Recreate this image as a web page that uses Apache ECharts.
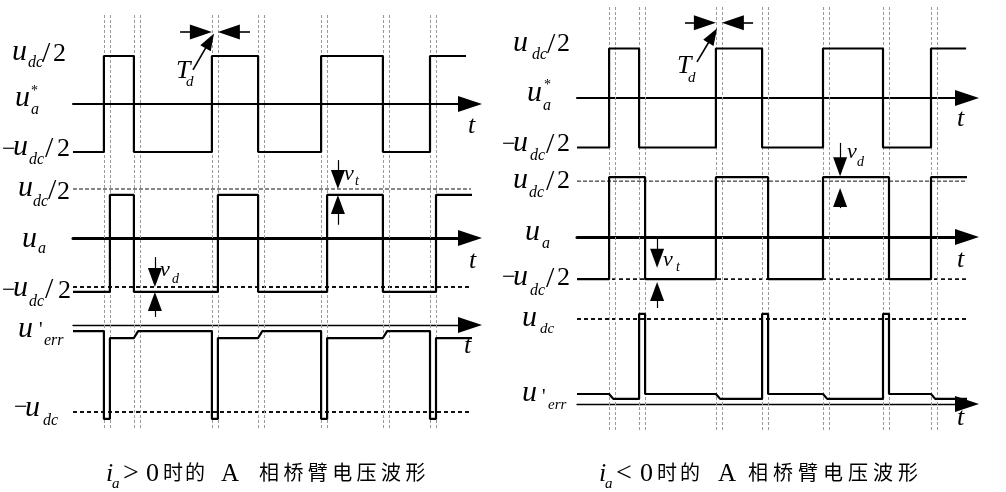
<!DOCTYPE html>
<html>
<head>
<meta charset="utf-8">
<title>A相桥臂电压波形</title>
<script src="https://cdn.jsdelivr.net/npm/echarts@6/dist/echarts.min.js"></script>
<style>
  html, body { margin: 0; padding: 0; background: #fff; }
  #chart { width: 1006px; height: 492px; }
</style>
</head>
<body>
<div id="chart"></div>
<script>
// udc = 2, so +-udc/2 = +-1. time in arbitrary units, dead time TD = 2
const TD = 2
const RAMP = 1.4
// switching instants of the reference u_a* (rise, fall, rise, ...)
const edgesPos = [10.3, 20.3, 46.3, 61.7, 82.7, 103.3, 119]
const edgesNeg = [10.7, 20.7, 46.3, 61.7, 82, 102, 118]
const refLevels = [-1, 1]
// u_a levels [low, high]
const uaPosLevels = [-1.1, 0.88]
const uaNegLevels = [-0.86, 1.22]
// dashed udc/2 and -udc/2 references of the u_a rows
const uaPosDash = [1, -1]
const uaNegDash = [1.14, -0.86]
// u'err levels [ref low, ref high, dead-time pulse]
const errPosLevels = [-0.14, -0.3, -2.16]
const errNegLevels = [0.235, 0.12, 2.12]
const errPosDash = -2
const errNegDash = 2
// end time of the traces [u_a*, u_a, u'err]
const tEndPos = [131, 133.3, 133.3]
const tEndNeg = [129.7, 130, 130]

// annotation arrows, [tail, tip] as [t, value] of their row
const tdArrowsPos = [[[35.7, 1.5], [46.3, 1.5]], [[59, 1.5], [48.3, 1.5]]]
const tdPointerPos = [[[40, 0.71], [47, 1.47]]]
const tdArrowsNeg = [[[36, 1.52], [46.3, 1.52]], [[58.7, 1.52], [48.3, 1.52]]]
const tdPointerNeg = [[[40, 0.73], [46.7, 1.41]]]
const vArrowsPos = [
  [[27.3, -0.39], [27.3, -1.0]], [[27.3, -1.61], [27.3, -1.1]],   // v_d
  [[88.3, 1.59], [88.3, 1.0]], [[88.3, 0.27], [88.3, 0.88]]       // v_t
]
const vArrowsNeg = [
  [[26.7, 0], [26.7, -0.63]], [[26.7, -1.45], [26.7, -0.92]],     // v_t
  [[87.7, 1.92], [87.7, 1.24]], [[87.7, 0.59], [87.7, 1.0]]       // v_d
]

const PPT = 3 // px per time unit
const panels = [
  { left: 73, width: 397, tMax: 132.33, gTop: 13, gH: 415 },
  { left: 577, width: 390, tMax: 130, gTop: 7, gH: 423 }
]
const rows = [
  { p: 0, top: 27.2, height: 153.6, min: -1.6, max: 1.6, axisW: 2 },
  { p: 0, top: 154.7, height: 166.6, min: -1.7, max: 1.7, axisW: 3 },
  { p: 0, top: 298.9, height: 130.5, min: -2.4, max: 0.6, axisW: 1.3 },
  { p: 1, top: 18.8, height: 158.4, min: -1.6, max: 1.6, axisW: 2 },
  { p: 1, top: 139, height: 181.3, min: -1.7, max: 2.0, axisW: 3 },
  { p: 1, top: 302, height: 127.5, min: -0.6, max: 2.4, axisW: 1.3 }
]

function square(edges, lv, end, dRise, dFall) {
  let y = lv[0]
  const pts = [[0, y]]
  edges.forEach((e, i) => {
    const t = e + (i % 2 ? dFall : dRise)
    pts.push([t, y])
    y = lv[i % 2 ? 0 : 1]
    pts.push([t, y])
  })
  pts.push([end, y])
  return pts
}
// i_a > 0 : -udc pulse after each rising edge, small step at falling edges
function errPos(edges, lv, end) {
  const [lo, hi, pk] = lv
  const pts = [[0, lo]]
  let y = lo
  edges.forEach((e, i) => {
    if (i % 2 === 0) { pts.push([e, lo], [e, pk], [e + TD, pk], [e + TD, hi]); y = hi }
    else { pts.push([e, hi], [e + RAMP, lo]); y = lo }
  })
  pts.push([end, y])
  return pts
}
// i_a < 0 : +udc pulse after each falling edge, small step at rising edges
function errNeg(edges, lv, end) {
  const [lo, hi, pk] = lv
  const pts = [[0, lo]]
  let y = lo
  edges.forEach((e, i) => {
    if (i % 2 === 0) { pts.push([e, lo], [e + RAMP, hi]); y = hi }
    else { pts.push([e, hi], [e, pk], [e + TD, pk], [e + TD, lo]); y = lo }
  })
  pts.push([end, y])
  return pts
}

function ppu(r) { return rows[r].height / (rows[r].max - rows[r].min) }

// shaft as a markLine, head as a rotated triangle centred half a head-length behind the tip
function arrows(r, segs, head, w) {
  const shafts = [], heads = []
  segs.forEach(([a, b]) => {
    const dx = (b[0] - a[0]) * PPT
    const dy = (b[1] - a[1]) * ppu(r)
    const len = Math.hypot(dx, dy)
    const k = head[1] / 2 / len
    const c = [b[0] - (b[0] - a[0]) * k, b[1] - (b[1] - a[1]) * k]
    shafts.push([{ coord: a }, { coord: c }])
    heads.push({ value: c, symbolSize: head, symbolRotate: Math.atan2(dy, dx) * 180 / Math.PI - 90 })
  })
  return {
    type: 'scatter', xAxisIndex: r, yAxisIndex: r, data: heads, symbol: 'triangle',
    silent: true, animation: false, z: 7, clip: false,
    itemStyle: { color: '#000', opacity: 1 },
    markLine: {
      silent: true, animation: false, symbol: ['none', 'none'],
      label: { show: false }, emphasis: { disabled: true },
      lineStyle: { color: '#000', width: w, type: 'solid', opacity: 1 },
      data: shafts
    }
  }
}

function wave(r, pts) {
  return {
    type: 'line', xAxisIndex: r, yAxisIndex: r, data: pts, symbol: 'none', showSymbol: false,
    clip: false, silent: true, animation: false, z: 5,
    lineStyle: { color: '#000', width: 2.2 }
  }
}
function hdash(r, v, end, w, dash) {
  return {
    type: 'line', xAxisIndex: r, yAxisIndex: r, data: [[0, v], [end, v]], symbol: 'none',
    clip: false, silent: true, animation: false, z: 3,
    lineStyle: { color: '#111', width: w, type: dash }
  }
}
function guides(gi, edges) {
  const data = []
  edges.forEach(e => { data.push({ xAxis: e }, { xAxis: e + TD }) })
  return {
    type: 'line', xAxisIndex: gi, yAxisIndex: gi, data: [[0, 0]], symbol: 'none', showSymbol: false,
    silent: true, animation: false, z: 1, lineStyle: { opacity: 0 },
    markLine: {
      silent: true, animation: false, symbol: ['none', 'none'], label: { show: false },
      lineStyle: { color: '#9a9a9a', width: 1, type: [3, 2], opacity: 1 }, data: data
    }
  }
}

const grid = [], xAxis = [], yAxis = []
rows.forEach((r, i) => {
  const p = panels[r.p]
  grid.push({ left: p.left, width: p.width, top: r.top, height: r.height, outerBoundsMode: 'none', containLabel: false })
  xAxis.push({
    type: 'value', gridIndex: i, min: 0, max: p.tMax, z: 4,
    axisLine: { show: true, onZero: true, symbol: ['none', 'triangle'], symbolSize: [16, 24], lineStyle: { color: '#000', width: r.axisW } },
    axisTick: { show: false }, axisLabel: { show: false }, splitLine: { show: false }
  })
  yAxis.push({ type: 'value', gridIndex: i, min: r.min, max: r.max, show: false, splitLine: { show: false } })
})
panels.forEach((p, j) => {
  grid.push({ left: p.left, width: p.width, top: p.gTop, height: p.gH, outerBoundsMode: 'none', containLabel: false })
  xAxis.push({ type: 'value', gridIndex: 6 + j, min: 0, max: p.tMax, show: false, splitLine: { show: false } })
  yAxis.push({ type: 'value', gridIndex: 6 + j, min: 0, max: 1, show: false, splitLine: { show: false } })
})

const series = [
  guides(6, edgesPos),
  guides(7, edgesNeg),
  // i_a > 0
  wave(0, square(edgesPos, refLevels, tEndPos[0], 0, 0)),
  arrows(0, tdArrowsPos, [15, 22], 1.6),
  arrows(0, tdPointerPos, [12, 17], 1.6),
  wave(1, square(edgesPos, uaPosLevels, tEndPos[1], TD, 0)),
  arrows(1, vArrowsPos, [14, 19], 1.2),
  hdash(1, uaPosDash[0], tEndPos[1], 1, [4, 2]),
  hdash(1, uaPosDash[1], tEndPos[1], 1.8, [4, 3]),
  wave(2, errPos(edgesPos, errPosLevels, tEndPos[2])),
  hdash(2, errPosDash, tEndPos[2], 1.8, [4, 3]),
  // i_a < 0
  wave(3, square(edgesNeg, refLevels, tEndNeg[0], 0, 0)),
  arrows(3, tdArrowsNeg, [15, 22], 1.6),
  arrows(3, tdPointerNeg, [12, 17], 1.6),
  wave(4, square(edgesNeg, uaNegLevels, tEndNeg[1], 0, TD)),
  arrows(4, vArrowsNeg, [14, 19], 1.2),
  hdash(4, uaNegDash[0], tEndNeg[1], 1, [4, 2]),
  hdash(4, uaNegDash[1], tEndNeg[1], 1.8, [4, 3]),
  wave(5, errNeg(edgesNeg, errNegLevels, tEndNeg[2])),
  hdash(5, errNegDash, tEndNeg[2], 1.8, [4, 3])
]

// ---- text ----
const SERIF = '"Liberation Serif","Times New Roman",serif'
const CJK = '"Noto Sans CJK SC","Noto Sans CJK TC",sans-serif'
// [x, baseline, text, size, italic]
const labels = [
  // left, row 1
  [12, 62, 'u', 30, 1], [28, 68, 'dc', 16, 1], [42, 64, '/', 30, 0], [53, 63, '2', 26, 0],
  [15, 108, 'u', 30, 1], [31, 115, 'a', 16, 1], [31, 96, '*', 14, 0],
  [2, 158, '\u2212', 24, 0], [13, 157, 'u', 30, 1], [29, 165, 'dc', 16, 1], [45, 159, '/', 30, 0], [57, 158, '2', 26, 0],
  [176, 80, 'T', 26, 1], [186, 87, 'd', 15, 1],
  [468, 135, 't', 26, 1],
  // left, row 2
  [18, 198, 'u', 30, 1], [33, 207, 'dc', 16, 1], [48, 201, '/', 30, 0], [57, 201, '2', 26, 0],
  [22, 249, 'u', 30, 1], [38, 254, 'a', 16, 1],
  [2, 299, '\u2212', 24, 0], [13, 298, 'u', 30, 1], [29, 307, 'dc', 16, 1], [45, 300, '/', 30, 0], [58, 300, '2', 26, 0],
  [160, 278, 'v', 22, 1], [172, 284, 'd', 14, 1],
  [344, 182, 'v', 22, 1], [355, 186, 't', 14, 1],
  [469, 270, 't', 26, 1],
  // left, row 3
  [18, 339, 'u', 30, 1], [39, 338, '\'', 20, 0], [44, 346, 'err', 16, 1],
  [14, 416, '\u2212', 24, 0], [25, 418, 'u', 30, 1], [43, 426, 'dc', 16, 1],
  [464, 355, 't', 26, 1],
  // right, row 1
  [513, 53, 'u', 30, 1], [532, 60, 'dc', 16, 1], [547, 55, '/', 30, 0], [557, 53, '2', 26, 0],
  [527, 103, 'u', 30, 1], [543, 111, 'a', 16, 1], [544, 90, '*', 14, 0],
  [502, 153, '\u2212', 24, 0], [513, 153, 'u', 30, 1], [530, 161, 'dc', 16, 1], [546, 155, '/', 30, 0], [557, 153, '2', 26, 0],
  [677, 75, 'T', 26, 1], [688, 83, 'd', 15, 1],
  [957, 128, 't', 26, 1],
  // right, row 2
  [513, 190, 'u', 30, 1], [529, 198, 'dc', 16, 1], [546, 192, '/', 30, 0], [557, 190, '2', 26, 0],
  [525, 242, 'u', 30, 1], [542, 249, 'a', 16, 1],
  [502, 286, '\u2212', 24, 0], [513, 287, 'u', 30, 1], [530, 296, 'dc', 16, 1], [546, 289, '/', 30, 0], [557, 287, '2', 26, 0],
  [663, 268, 'v', 22, 1], [676, 272, 't', 14, 1],
  [847, 160, 'v', 22, 1], [857, 167, 'd', 14, 1],
  [957, 269, 't', 26, 1],
  // right, row 3
  [522, 328, 'u', 30, 1], [540, 334, 'dc', 15, 1],
  [522, 403, 'u', 30, 1], [542, 405, '\'', 20, 0], [548, 410, 'err', 15, 1],
  [957, 427, 't', 26, 1],
  // captions
  [106, 483, 'i', 26, 1], [112, 489, 'a', 15, 1], [123, 483, '>', 28, 0], [146, 483, '0', 26, 0], [221, 483, 'A', 25, 0],
  [599, 483, 'i', 26, 1], [605, 489, 'a', 15, 1], [616, 483, '<', 28, 0], [640, 483, '0', 26, 0], [718, 483, 'A', 25, 0]
]
const captionCJK = [
  { x: [163, 185], text: '时的' }, { x0: 259, pitch: 24.4, text: '相桥臂电压波形' },
  { x: [657, 680], text: '时的' }, { x0: 748, pitch: 25, text: '相桥臂电压波形' }
]

function tx(x, y, s, font) {
  return {
    type: 'text', x: x, y: y, silent: true,
    style: { text: s, font: font, fill: '#000', textAlign: 'left', align: 'left', textVerticalAlign: 'middle', verticalAlign: 'middle' }
  }
}
const elements = labels.map(l => tx(l[0], l[1] - 0.34 * l[3], l[2], (l[4] ? 'italic ' : '') + l[3] + 'px ' + SERIF))
captionCJK.forEach(c => {
  Array.from(c.text).forEach((ch, i) => {
    const x = c.x ? c.x[i] : c.x0 + i * c.pitch
    elements.push(tx(x, 472.5, ch, '20px ' + CJK))
  })
})

const chart = echarts.init(document.getElementById('chart'), null, { renderer: 'canvas' })
chart.setOption({
  animation: false,
  backgroundColor: '#fff',
  grid: grid,
  xAxis: xAxis,
  yAxis: yAxis,
  series: series,
  graphic: { elements: elements }
})
</script>
</body>
</html>
